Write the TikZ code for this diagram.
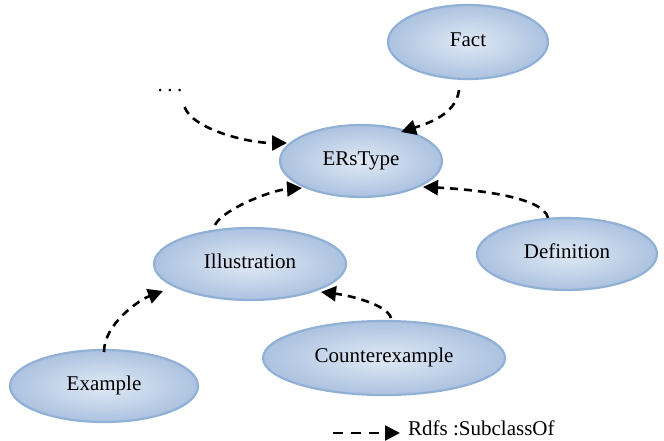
\documentclass[tikz,border=0pt]{standalone}
\usepackage{fontspec}
\setmainfont{Liberation Serif}
\usetikzlibrary{arrows.meta,calc,shapes.geometric}
\definecolor{ovalline}{RGB}{145,176,214}
\definecolor{ovalin}{RGB}{224,233,245}
\definecolor{ovalout}{RGB}{172,194,224}

\begin{document}
\begin{tikzpicture}[x=1pt,y=-1pt,
  oval/.style={ellipse, draw=ovalline, line width=2.2pt,
    inner color=ovalin, outer color=ovalout, inner sep=0pt,
    text height=14.5pt, text depth=5.5pt,
    font=\fontsize{21}{25}\selectfont},
  subclass/.style={line width=2.6pt, dash pattern=on 8pt off 6pt,
    -{Triangle[length=15pt,width=15pt]}},
  lbl/.style={font=\fontsize{21}{25}\selectfont, inner sep=0pt}]
\useasboundingbox (0,0) rectangle (664,441);

% classes
\node[oval, minimum width=160pt, minimum height=74pt] (fact) at (468,42) {Fact};
\node[oval, minimum width=162pt, minimum height=72pt] (ers)  at (361,161) {ERsType};
\node[oval, minimum width=192pt, minimum height=72pt] (ill)  at (250,264) {Illustration};
\node[oval, minimum width=180pt, minimum height=72pt] (def)  at (567,254) {Definition};
\node[oval, minimum width=242pt, minimum height=74pt] (cex)  at (384,358) {Counterexample};
\node[oval, minimum width=188pt, minimum height=72pt] (ex)   at (104,386) {Example};
\node[lbl, anchor=base] (more) at (170,92) {.\hspace{4.5pt}.\hspace{4.5pt}.};

% subclass relations
\draw[subclass] ($(fact.center)+(-9,48)$)
  .. controls +(-3,25) and +(25,-8) .. ($(ers.center)+(40,-29)$);
\draw[subclass] ($(more.east)+(2,16)$)
  .. controls +(8,22) and +(-40,0) .. ($(ers.center)+(-74,-18)$);
\draw[subclass] ($(def.center)+(-19,-36)$)
  .. controls +(-4,-22) and +(45,2) .. ($(ers.center)+(62,26)$);
\draw[subclass] ($(ill.center)+(-35,-39)$)
  .. controls +(8,-16) and +(-30,2) .. ($(ers.center)+(-59,27)$);
\draw[subclass] ($(ex.center)+(0,-34)$)
  .. controls +(0,-28) and +(-24,9) .. ($(ill.center)+(-87,27)$);
\draw[subclass] ($(cex.center)+(7,-40)$)
  .. controls +(-4,-14) and +(26,3) .. ($(ill.center)+(71,28)$);

% legend
\node[lbl, anchor=base west] (lgtext) at (408,435) {Rdfs :SubclassOf};
\coordinate (lgstart) at (333,433);
\draw[subclass, dash pattern=on 10pt off 8pt] (lgstart) -- ($(lgtext.base west)+(-8,-2)$);
\end{tikzpicture}
\end{document}
